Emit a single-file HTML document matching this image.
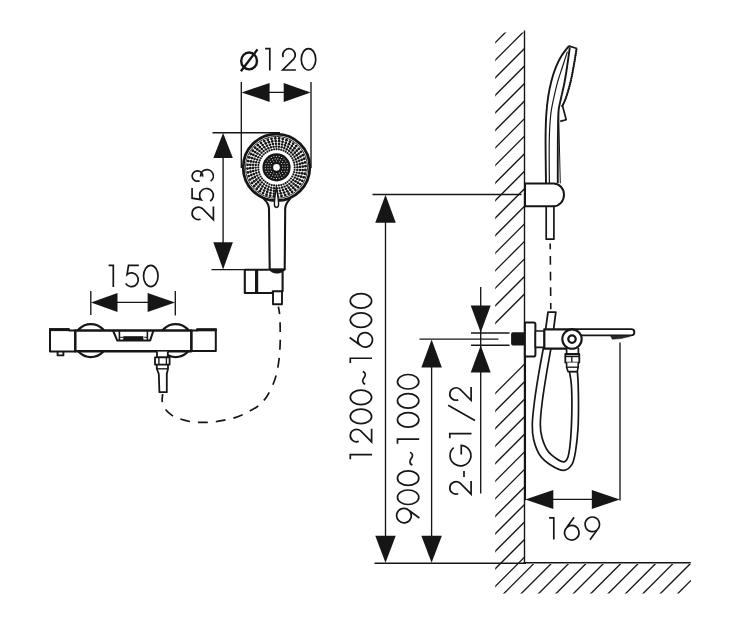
<!DOCTYPE html>
<html><head><meta charset="utf-8"><title>Dimension drawing</title>
<style>
html,body{margin:0;padding:0;background:#fff;}
body{width:738px;height:632px;overflow:hidden;font-family:"Liberation Sans",sans-serif;}
svg{display:block}
</style></head><body>
<svg width="738" height="632" viewBox="0 0 738 632">
<rect width="738" height="632" fill="#fff"/>
<clipPath id="hc"><path d="M495.2,32.5 H524.5 V564.0 H690.8 V593.6 H495.2 Z"/></clipPath>
<g clip-path="url(#hc)" stroke="#161616" stroke-width="1.35">
<line x1="480" y1="40.32" x2="720" y2="-199.68"/>
<line x1="480" y1="57.86" x2="720" y2="-182.14"/>
<line x1="480" y1="75.40" x2="720" y2="-164.60"/>
<line x1="480" y1="92.94" x2="720" y2="-147.06"/>
<line x1="480" y1="110.48" x2="720" y2="-129.52"/>
<line x1="480" y1="128.02" x2="720" y2="-111.98"/>
<line x1="480" y1="145.56" x2="720" y2="-94.44"/>
<line x1="480" y1="163.10" x2="720" y2="-76.90"/>
<line x1="480" y1="180.64" x2="720" y2="-59.36"/>
<line x1="480" y1="198.18" x2="720" y2="-41.82"/>
<line x1="480" y1="215.72" x2="720" y2="-24.28"/>
<line x1="480" y1="233.26" x2="720" y2="-6.74"/>
<line x1="480" y1="250.80" x2="720" y2="10.80"/>
<line x1="480" y1="268.34" x2="720" y2="28.34"/>
<line x1="480" y1="285.88" x2="720" y2="45.88"/>
<line x1="480" y1="303.42" x2="720" y2="63.42"/>
<line x1="480" y1="320.96" x2="720" y2="80.96"/>
<line x1="480" y1="338.50" x2="720" y2="98.50"/>
<line x1="480" y1="408.66" x2="720" y2="168.66"/>
<line x1="480" y1="426.20" x2="720" y2="186.20"/>
<line x1="480" y1="443.74" x2="720" y2="203.74"/>
<line x1="480" y1="461.28" x2="720" y2="221.28"/>
<line x1="480" y1="478.82" x2="720" y2="238.82"/>
<line x1="480" y1="496.36" x2="720" y2="256.36"/>
<line x1="480" y1="513.90" x2="720" y2="273.90"/>
<line x1="480" y1="531.44" x2="720" y2="291.44"/>
<line x1="480" y1="548.98" x2="720" y2="308.98"/>
<line x1="480" y1="566.52" x2="720" y2="326.52"/>
<line x1="480" y1="584.06" x2="720" y2="344.06"/>
<line x1="480" y1="601.60" x2="720" y2="361.60"/>
<line x1="480" y1="617.40" x2="720" y2="377.40"/>
<line x1="480" y1="634.80" x2="720" y2="394.80"/>
<line x1="480" y1="652.20" x2="720" y2="412.20"/>
<line x1="480" y1="669.60" x2="720" y2="429.60"/>
<line x1="480" y1="687.00" x2="720" y2="447.00"/>
<line x1="480" y1="704.40" x2="720" y2="464.40"/>
<line x1="480" y1="721.80" x2="720" y2="481.80"/>
<line x1="480" y1="739.20" x2="720" y2="499.20"/>
<line x1="480" y1="756.60" x2="720" y2="516.60"/>
<line x1="480" y1="774.00" x2="720" y2="534.00"/>
<line x1="480" y1="791.40" x2="720" y2="551.40"/>
<line x1="480" y1="808.80" x2="720" y2="568.80"/>
<line x1="480" y1="826.20" x2="720" y2="586.20"/>
<line x1="480" y1="843.60" x2="720" y2="603.60"/>
</g>
<line x1="524.5" y1="30.5" x2="524.5" y2="563.5" stroke="#161616" stroke-width="1.4" />
<line x1="523.5" y1="562.8" x2="690.8" y2="562.8" stroke="#161616" stroke-width="1.5" />
<line x1="241.3" y1="82" x2="241.3" y2="168" stroke="#161616" stroke-width="1.35" />
<line x1="311.0" y1="82" x2="311.0" y2="168" stroke="#161616" stroke-width="1.35" />
<line x1="250" y1="92.4" x2="302" y2="92.4" stroke="#161616" stroke-width="1.35" />
<polygon points="241.60,92.40 269.60,82.90 269.60,101.90" fill="#161616" stroke="none" stroke-width="0"/>
<polygon points="310.70,92.40 283.70,101.90 283.70,82.90" fill="#161616" stroke="none" stroke-width="0"/>
<g transform="translate(0,70.0) rotate(0)" fill="none" stroke="#161616" stroke-linecap="butt" stroke-linejoin="miter"><path transform="translate(249.10,0) scale(1,1.015)" d="M0,-17.2 A7.9,8.3 0 1 1 0,-0.6 A7.9,8.3 0 1 1 0,-17.2 Z M-8.2,1.3 L8.4,-20.3" stroke-width="2.4" vector-effect="non-scaling-stroke"/><path transform="translate(269.80,0) scale(1,1.015)" d="M-4.7,-21 H0 V0.4" stroke-width="1.7" vector-effect="non-scaling-stroke"/><path transform="translate(289.00,0) scale(1,1.015)" d="M-5.83,-12.68 A6.2,6.2 0 1 1 4.89,-10.98 L-6.3,0 H6.9" stroke-width="1.7" vector-effect="non-scaling-stroke"/><path transform="translate(308.50,0) scale(1,1.015)" d="M0,-21 A7.25,10.5 0 1 1 0,0 A7.25,10.5 0 1 1 0,-21 Z" stroke-width="1.7" vector-effect="non-scaling-stroke"/></g>
<line x1="212.5" y1="132.7" x2="280" y2="132.7" stroke="#161616" stroke-width="1.35" />
<line x1="211.5" y1="269.6" x2="246" y2="269.6" stroke="#161616" stroke-width="1.35" />
<line x1="223.1" y1="140" x2="223.1" y2="262" stroke="#161616" stroke-width="1.35" />
<polygon points="223.10,132.90 232.85,157.90 213.35,157.90" fill="#161616" stroke="none" stroke-width="0"/>
<polygon points="223.10,269.40 213.30,242.20 232.90,242.20" fill="#161616" stroke="none" stroke-width="0"/>
<line x1="90.8" y1="291" x2="90.8" y2="315" stroke="#161616" stroke-width="1.35" />
<line x1="175.3" y1="291" x2="175.3" y2="315.6" stroke="#161616" stroke-width="1.35" />
<line x1="100" y1="302.4" x2="166" y2="302.4" stroke="#161616" stroke-width="1.35" />
<polygon points="91.00,302.40 117.50,292.90 117.50,311.90" fill="#161616" stroke="none" stroke-width="0"/>
<polygon points="175.10,302.40 147.60,311.90 147.60,292.90" fill="#161616" stroke="none" stroke-width="0"/>
<g transform="translate(0,286.7) rotate(0)" fill="none" stroke="#161616" stroke-linecap="butt" stroke-linejoin="miter"><path transform="translate(113.30,0) scale(1,1.015)" d="M-4.7,-21 H0 V0.4" stroke-width="1.7" vector-effect="non-scaling-stroke"/><path transform="translate(132.05,0) scale(1,1.015)" d="M6.8,-21 H-3.5 L-5.0,-12.0 A6.8,6.8 0 1 1 -6.4,-3.25" stroke-width="1.7" vector-effect="non-scaling-stroke"/><path transform="translate(150.80,0) scale(1,1.015)" d="M0,-21 A7.25,10.5 0 1 1 0,0 A7.25,10.5 0 1 1 0,-21 Z" stroke-width="1.7" vector-effect="non-scaling-stroke"/></g>
<line x1="372.5" y1="194.5" x2="521.5" y2="194.5" stroke="#161616" stroke-width="1.35" />
<line x1="385.5" y1="200" x2="385.5" y2="556" stroke="#161616" stroke-width="1.35" />
<polygon points="385.50,194.70 395.75,222.70 375.25,222.70" fill="#161616" stroke="none" stroke-width="0"/>
<polygon points="385.50,562.80 375.25,535.80 395.75,535.80" fill="#161616" stroke="none" stroke-width="0"/>
<line x1="374.5" y1="563.2" x2="526" y2="563.2" stroke="#161616" stroke-width="1.35" />
<line x1="419.5" y1="339.1" x2="498.5" y2="339.1" stroke="#161616" stroke-width="1.35" />
<line x1="431.6" y1="345" x2="431.6" y2="556" stroke="#161616" stroke-width="1.35" />
<polygon points="431.60,339.40 441.85,367.40 421.35,367.40" fill="#161616" stroke="none" stroke-width="0"/>
<polygon points="431.60,562.80 421.35,535.80 441.85,535.80" fill="#161616" stroke="none" stroke-width="0"/>
<line x1="480.7" y1="287" x2="480.7" y2="493.5" stroke="#161616" stroke-width="1.35" />
<line x1="471" y1="333.0" x2="509.5" y2="333.0" stroke="#161616" stroke-width="1.35" />
<line x1="471" y1="345.2" x2="509.5" y2="345.2" stroke="#161616" stroke-width="1.35" />
<polygon points="480.70,332.60 470.70,305.60 490.70,305.60" fill="#161616" stroke="none" stroke-width="0"/>
<polygon points="480.70,345.60 490.70,372.60 470.70,372.60" fill="#161616" stroke="none" stroke-width="0"/>
<line x1="620.0" y1="342.5" x2="620.0" y2="500.5" stroke="#161616" stroke-width="1.35" />
<line x1="525.3" y1="357" x2="525.3" y2="500.3" stroke="#161616" stroke-width="1.5" />
<line x1="535" y1="499.4" x2="610" y2="499.4" stroke="#161616" stroke-width="1.35" />
<polygon points="525.30,499.40 553.30,489.90 553.30,508.90" fill="#161616" stroke="none" stroke-width="0"/>
<polygon points="619.80,499.40 591.80,508.90 591.80,489.90" fill="#161616" stroke="none" stroke-width="0"/>
<g transform="translate(0,539.2) rotate(0)" fill="none" stroke="#161616" stroke-linecap="butt" stroke-linejoin="miter"><path transform="translate(553.80,0) scale(1,1.015)" d="M-4.7,-21 H0 V0.4" stroke-width="1.7" vector-effect="non-scaling-stroke"/><path transform="translate(572.50,0) scale(1,1.015)" d="M1.6,-21.6 L-5.81,-11.45 A7.2,7.2 0 1 0 -5.80,-11.46" stroke-width="1.7" vector-effect="non-scaling-stroke"/><path transform="translate(591.60,0) scale(1,1.015)" d="M-1.6,0.6 L5.81,-9.55 A7.2,7.2 0 1 0 5.80,-9.54" stroke-width="1.7" vector-effect="non-scaling-stroke"/></g>
<g transform="translate(213.4,0) rotate(-90)" fill="none" stroke="#161616" stroke-linecap="butt" stroke-linejoin="miter"><path transform="translate(-213.40,0) scale(1,1.015)" d="M-5.83,-12.68 A6.2,6.2 0 1 1 4.89,-10.98 L-6.3,0 H6.9" stroke-width="1.7" vector-effect="non-scaling-stroke"/><path transform="translate(-194.70,0) scale(1,1.015)" d="M6.8,-21 H-3.5 L-5.0,-12.0 A6.8,6.8 0 1 1 -6.4,-3.25" stroke-width="1.7" vector-effect="non-scaling-stroke"/><path transform="translate(-176.00,0) scale(1,1.015)" d="M-4.71,-13.60 A5.2,5.2 0 1 1 -0.6,-10.60 M-0.6,-12.60 A6.3,6.3 0 1 1 -5.16,-2.69" stroke-width="1.7" vector-effect="non-scaling-stroke"/></g>
<g transform="translate(371.6,464.2) rotate(-90)" fill="none" stroke="#161616" stroke-linecap="butt" stroke-linejoin="miter"><path transform="translate(9.55,0) scale(1,1.015)" d="M-4.7,-21 H0 V0.4" stroke-width="1.7" vector-effect="non-scaling-stroke"/><path transform="translate(28.65,0) scale(1,1.015)" d="M-5.83,-12.68 A6.2,6.2 0 1 1 4.89,-10.98 L-6.3,0 H6.9" stroke-width="1.7" vector-effect="non-scaling-stroke"/><path transform="translate(47.75,0) scale(1,1.015)" d="M0,-21 A7.25,10.5 0 1 1 0,0 A7.25,10.5 0 1 1 0,-21 Z" stroke-width="1.7" vector-effect="non-scaling-stroke"/><path transform="translate(66.85,0) scale(1,1.015)" d="M0,-21 A7.25,10.5 0 1 1 0,0 A7.25,10.5 0 1 1 0,-21 Z" stroke-width="1.7" vector-effect="non-scaling-stroke"/><path transform="translate(86.40,0) scale(1,1.015)" d="M-6.4,-6.3 C-5.2,-9.3 -2.4,-9.5 0,-7.5 C2.4,-5.5 5.2,-5.7 6.4,-8.7" stroke-width="1.7" vector-effect="non-scaling-stroke"/><path transform="translate(105.95,0) scale(1,1.015)" d="M-4.7,-21 H0 V0.4" stroke-width="1.7" vector-effect="non-scaling-stroke"/><path transform="translate(125.05,0) scale(1,1.015)" d="M1.6,-21.6 L-5.81,-11.45 A7.2,7.2 0 1 0 -5.80,-11.46" stroke-width="1.7" vector-effect="non-scaling-stroke"/><path transform="translate(144.15,0) scale(1,1.015)" d="M0,-21 A7.25,10.5 0 1 1 0,0 A7.25,10.5 0 1 1 0,-21 Z" stroke-width="1.7" vector-effect="non-scaling-stroke"/><path transform="translate(163.25,0) scale(1,1.015)" d="M0,-21 A7.25,10.5 0 1 1 0,0 A7.25,10.5 0 1 1 0,-21 Z" stroke-width="1.7" vector-effect="non-scaling-stroke"/></g>
<g transform="translate(418.8,525.9) rotate(-90)" fill="none" stroke="#161616" stroke-linecap="butt" stroke-linejoin="miter"><path transform="translate(9.55,0) scale(1,1.015)" d="M-1.6,0.6 L5.81,-9.55 A7.2,7.2 0 1 0 5.80,-9.54" stroke-width="1.7" vector-effect="non-scaling-stroke"/><path transform="translate(28.65,0) scale(1,1.015)" d="M0,-21 A7.25,10.5 0 1 1 0,0 A7.25,10.5 0 1 1 0,-21 Z" stroke-width="1.7" vector-effect="non-scaling-stroke"/><path transform="translate(47.75,0) scale(1,1.015)" d="M0,-21 A7.25,10.5 0 1 1 0,0 A7.25,10.5 0 1 1 0,-21 Z" stroke-width="1.7" vector-effect="non-scaling-stroke"/><path transform="translate(67.30,0) scale(1,1.015)" d="M-6.4,-6.3 C-5.2,-9.3 -2.4,-9.5 0,-7.5 C2.4,-5.5 5.2,-5.7 6.4,-8.7" stroke-width="1.7" vector-effect="non-scaling-stroke"/><path transform="translate(86.85,0) scale(1,1.015)" d="M-4.7,-21 H0 V0.4" stroke-width="1.7" vector-effect="non-scaling-stroke"/><path transform="translate(105.95,0) scale(1,1.015)" d="M0,-21 A7.25,10.5 0 1 1 0,0 A7.25,10.5 0 1 1 0,-21 Z" stroke-width="1.7" vector-effect="non-scaling-stroke"/><path transform="translate(125.05,0) scale(1,1.015)" d="M0,-21 A7.25,10.5 0 1 1 0,0 A7.25,10.5 0 1 1 0,-21 Z" stroke-width="1.7" vector-effect="non-scaling-stroke"/><path transform="translate(144.15,0) scale(1,1.015)" d="M0,-21 A7.25,10.5 0 1 1 0,0 A7.25,10.5 0 1 1 0,-21 Z" stroke-width="1.7" vector-effect="non-scaling-stroke"/></g>
<g transform="translate(471.1,0) rotate(-90)" fill="none" stroke="#161616" stroke-linecap="butt" stroke-linejoin="miter"><path transform="translate(-487.90,0) scale(1,1.015)" d="M-5.83,-12.68 A6.2,6.2 0 1 1 4.89,-10.98 L-6.3,0 H6.9" stroke-width="1.7" vector-effect="non-scaling-stroke"/><path transform="translate(-474.00,0) scale(1,1.015)" d="M-3.0,-7.0 H3.0" stroke-width="1.7" vector-effect="non-scaling-stroke"/><path transform="translate(-455.60,0) scale(1,1.015)" d="M7.89,-17.12 A10.3,10.3 0 1 0 10.30,-9.7 H1.0" stroke-width="1.7" vector-effect="non-scaling-stroke"/><path transform="translate(-433.60,0) scale(1,1.015)" d="M-4.7,-21 H0 V0.4" stroke-width="1.7" vector-effect="non-scaling-stroke"/><path transform="translate(-412.80,0) scale(1,1.015)" d="M-7.6,3.8 L7.6,-22.6" stroke-width="1.7" vector-effect="non-scaling-stroke"/><path transform="translate(-394.00,0) scale(1,1.015)" d="M-5.83,-12.68 A6.2,6.2 0 1 1 4.89,-10.98 L-6.3,0 H6.9" stroke-width="1.7" vector-effect="non-scaling-stroke"/></g>
<path d="M263.6,198.8 C266.6,201.4 268.7,204.2 269.0,208.5 L269.7,269.6 H284.7 L285.2,208.5 C285.5,204.2 287.6,201.4 290.2,198.8" fill="#fff" stroke="#161616" stroke-width="2.1" stroke-linejoin="round" />
<circle cx="276.5" cy="167.4" r="33.3" fill="#fff" stroke="#161616" stroke-width="2.8"/>
<circle cx="276.5" cy="167.4" r="31.0" fill="none" stroke="#161616" stroke-width="0.9"/>
<g fill="#161616"><circle cx="294.70" cy="167.40" r="1.08"/><circle cx="297.40" cy="167.18" r="1.2"/><circle cx="300.09" cy="166.91" r="1.3"/><circle cx="302.79" cy="166.57" r="1.38"/><circle cx="305.47" cy="166.19" r="1.42"/><circle cx="294.54" cy="169.78" r="1.08"/><circle cx="297.25" cy="169.91" r="1.2"/><circle cx="299.96" cy="169.99" r="1.3"/><circle cx="302.67" cy="170.01" r="1.38"/><circle cx="305.39" cy="169.98" r="1.42"/><circle cx="294.08" cy="172.11" r="1.08"/><circle cx="296.74" cy="172.60" r="1.2"/><circle cx="299.42" cy="173.03" r="1.3"/><circle cx="302.11" cy="173.41" r="1.38"/><circle cx="304.80" cy="173.73" r="1.42"/><circle cx="293.31" cy="174.36" r="1.08"/><circle cx="295.89" cy="175.20" r="1.2"/><circle cx="298.49" cy="175.97" r="1.3"/><circle cx="301.10" cy="176.70" r="1.38"/><circle cx="303.73" cy="177.37" r="1.42"/><circle cx="292.26" cy="176.50" r="1.08"/><circle cx="294.71" cy="177.66" r="1.2"/><circle cx="297.18" cy="178.77" r="1.3"/><circle cx="299.68" cy="179.83" r="1.38"/><circle cx="302.20" cy="180.84" r="1.42"/><circle cx="290.94" cy="178.48" r="1.08"/><circle cx="293.21" cy="179.95" r="1.2"/><circle cx="295.52" cy="181.37" r="1.3"/><circle cx="297.86" cy="182.75" r="1.38"/><circle cx="300.23" cy="184.08" r="1.42"/><circle cx="289.37" cy="180.27" r="1.08"/><circle cx="291.43" cy="182.02" r="1.2"/><circle cx="293.53" cy="183.73" r="1.3"/><circle cx="295.67" cy="185.40" r="1.38"/><circle cx="297.85" cy="187.03" r="1.42"/><circle cx="287.58" cy="181.84" r="1.08"/><circle cx="289.40" cy="183.85" r="1.2"/><circle cx="291.26" cy="185.82" r="1.3"/><circle cx="293.16" cy="187.75" r="1.38"/><circle cx="295.10" cy="189.65" r="1.42"/><circle cx="285.60" cy="183.16" r="1.08"/><circle cx="287.14" cy="185.39" r="1.2"/><circle cx="288.73" cy="187.59" r="1.3"/><circle cx="290.36" cy="189.75" r="1.38"/><circle cx="292.04" cy="191.89" r="1.42"/><circle cx="283.46" cy="184.21" r="1.08"/><circle cx="284.70" cy="186.62" r="1.2"/><circle cx="285.99" cy="189.01" r="1.3"/><circle cx="287.32" cy="191.37" r="1.38"/><circle cx="288.71" cy="193.70" r="1.42"/><circle cx="281.21" cy="184.98" r="1.08"/><circle cx="282.12" cy="187.53" r="1.2"/><circle cx="283.08" cy="190.06" r="1.3"/><circle cx="284.10" cy="192.58" r="1.38"/><circle cx="285.17" cy="195.07" r="1.42"/><circle cx="278.88" cy="185.44" r="1.08"/><circle cx="279.44" cy="188.09" r="1.2"/><circle cx="280.07" cy="190.73" r="1.3"/><circle cx="280.75" cy="193.35" r="1.38"/><circle cx="281.49" cy="195.97" r="1.42"/><circle cx="276.50" cy="185.60" r="1.08"/><circle cx="276.72" cy="188.30" r="1.2"/><circle cx="276.99" cy="190.99" r="1.3"/><circle cx="277.33" cy="193.69" r="1.38"/><circle cx="277.71" cy="196.37" r="1.42"/><circle cx="274.12" cy="185.44" r="1.08"/><circle cx="273.99" cy="188.15" r="1.2"/><circle cx="273.91" cy="190.86" r="1.3"/><circle cx="273.89" cy="193.57" r="1.38"/><circle cx="273.92" cy="196.29" r="1.42"/><circle cx="271.79" cy="184.98" r="1.08"/><circle cx="271.30" cy="187.64" r="1.2"/><circle cx="270.87" cy="190.32" r="1.3"/><circle cx="270.49" cy="193.01" r="1.38"/><circle cx="270.17" cy="195.70" r="1.42"/><circle cx="269.54" cy="184.21" r="1.08"/><circle cx="268.70" cy="186.79" r="1.2"/><circle cx="267.93" cy="189.39" r="1.3"/><circle cx="267.20" cy="192.00" r="1.38"/><circle cx="266.53" cy="194.63" r="1.42"/><circle cx="267.40" cy="183.16" r="1.08"/><circle cx="266.24" cy="185.61" r="1.2"/><circle cx="265.13" cy="188.08" r="1.3"/><circle cx="264.07" cy="190.58" r="1.38"/><circle cx="263.06" cy="193.10" r="1.42"/><circle cx="265.42" cy="181.84" r="1.08"/><circle cx="263.95" cy="184.11" r="1.2"/><circle cx="262.53" cy="186.42" r="1.3"/><circle cx="261.15" cy="188.76" r="1.38"/><circle cx="259.82" cy="191.13" r="1.42"/><circle cx="263.63" cy="180.27" r="1.08"/><circle cx="261.88" cy="182.33" r="1.2"/><circle cx="260.17" cy="184.43" r="1.3"/><circle cx="258.50" cy="186.57" r="1.38"/><circle cx="256.87" cy="188.75" r="1.42"/><circle cx="262.06" cy="178.48" r="1.08"/><circle cx="260.05" cy="180.30" r="1.2"/><circle cx="258.08" cy="182.16" r="1.3"/><circle cx="256.15" cy="184.06" r="1.38"/><circle cx="254.25" cy="186.00" r="1.42"/><circle cx="260.74" cy="176.50" r="1.08"/><circle cx="258.51" cy="178.04" r="1.2"/><circle cx="256.31" cy="179.63" r="1.3"/><circle cx="254.15" cy="181.26" r="1.38"/><circle cx="252.01" cy="182.94" r="1.42"/><circle cx="259.69" cy="174.36" r="1.08"/><circle cx="257.28" cy="175.60" r="1.2"/><circle cx="254.89" cy="176.89" r="1.3"/><circle cx="252.53" cy="178.22" r="1.38"/><circle cx="250.20" cy="179.61" r="1.42"/><circle cx="258.92" cy="172.11" r="1.08"/><circle cx="256.37" cy="173.02" r="1.2"/><circle cx="253.84" cy="173.98" r="1.3"/><circle cx="251.32" cy="175.00" r="1.38"/><circle cx="248.83" cy="176.07" r="1.42"/><circle cx="258.46" cy="169.78" r="1.08"/><circle cx="255.81" cy="170.34" r="1.2"/><circle cx="253.17" cy="170.97" r="1.3"/><circle cx="250.55" cy="171.65" r="1.38"/><circle cx="247.93" cy="172.39" r="1.42"/><circle cx="258.30" cy="167.40" r="1.08"/><circle cx="255.60" cy="167.62" r="1.2"/><circle cx="252.91" cy="167.89" r="1.3"/><circle cx="250.21" cy="168.23" r="1.38"/><circle cx="247.53" cy="168.61" r="1.42"/><circle cx="258.46" cy="165.02" r="1.08"/><circle cx="255.75" cy="164.89" r="1.2"/><circle cx="253.04" cy="164.81" r="1.3"/><circle cx="250.33" cy="164.79" r="1.38"/><circle cx="247.61" cy="164.82" r="1.42"/><circle cx="258.92" cy="162.69" r="1.08"/><circle cx="256.26" cy="162.20" r="1.2"/><circle cx="253.58" cy="161.77" r="1.3"/><circle cx="250.89" cy="161.39" r="1.38"/><circle cx="248.20" cy="161.07" r="1.42"/><circle cx="259.69" cy="160.44" r="1.08"/><circle cx="257.11" cy="159.60" r="1.2"/><circle cx="254.51" cy="158.83" r="1.3"/><circle cx="251.90" cy="158.10" r="1.38"/><circle cx="249.27" cy="157.43" r="1.42"/><circle cx="260.74" cy="158.30" r="1.08"/><circle cx="258.29" cy="157.14" r="1.2"/><circle cx="255.82" cy="156.03" r="1.3"/><circle cx="253.32" cy="154.97" r="1.38"/><circle cx="250.80" cy="153.96" r="1.42"/><circle cx="262.06" cy="156.32" r="1.08"/><circle cx="259.79" cy="154.85" r="1.2"/><circle cx="257.48" cy="153.43" r="1.3"/><circle cx="255.14" cy="152.05" r="1.38"/><circle cx="252.77" cy="150.72" r="1.42"/><circle cx="263.63" cy="154.53" r="1.08"/><circle cx="261.57" cy="152.78" r="1.2"/><circle cx="259.47" cy="151.07" r="1.3"/><circle cx="257.33" cy="149.40" r="1.38"/><circle cx="255.15" cy="147.77" r="1.42"/><circle cx="265.42" cy="152.96" r="1.08"/><circle cx="263.60" cy="150.95" r="1.2"/><circle cx="261.74" cy="148.98" r="1.3"/><circle cx="259.84" cy="147.05" r="1.38"/><circle cx="257.90" cy="145.15" r="1.42"/><circle cx="267.40" cy="151.64" r="1.08"/><circle cx="265.86" cy="149.41" r="1.2"/><circle cx="264.27" cy="147.21" r="1.3"/><circle cx="262.64" cy="145.05" r="1.38"/><circle cx="260.96" cy="142.91" r="1.42"/><circle cx="269.54" cy="150.59" r="1.08"/><circle cx="268.30" cy="148.18" r="1.2"/><circle cx="267.01" cy="145.79" r="1.3"/><circle cx="265.68" cy="143.43" r="1.38"/><circle cx="264.29" cy="141.10" r="1.42"/><circle cx="271.79" cy="149.82" r="1.08"/><circle cx="270.88" cy="147.27" r="1.2"/><circle cx="269.92" cy="144.74" r="1.3"/><circle cx="268.90" cy="142.22" r="1.38"/><circle cx="267.83" cy="139.73" r="1.42"/><circle cx="274.12" cy="149.36" r="1.08"/><circle cx="273.56" cy="146.71" r="1.2"/><circle cx="272.93" cy="144.07" r="1.3"/><circle cx="272.25" cy="141.45" r="1.38"/><circle cx="271.51" cy="138.83" r="1.42"/><circle cx="276.50" cy="149.20" r="1.08"/><circle cx="276.28" cy="146.50" r="1.2"/><circle cx="276.01" cy="143.81" r="1.3"/><circle cx="275.67" cy="141.11" r="1.38"/><circle cx="275.29" cy="138.43" r="1.42"/><circle cx="278.88" cy="149.36" r="1.08"/><circle cx="279.01" cy="146.65" r="1.2"/><circle cx="279.09" cy="143.94" r="1.3"/><circle cx="279.11" cy="141.23" r="1.38"/><circle cx="279.08" cy="138.51" r="1.42"/><circle cx="281.21" cy="149.82" r="1.08"/><circle cx="281.70" cy="147.16" r="1.2"/><circle cx="282.13" cy="144.48" r="1.3"/><circle cx="282.51" cy="141.79" r="1.38"/><circle cx="282.83" cy="139.10" r="1.42"/><circle cx="283.46" cy="150.59" r="1.08"/><circle cx="284.30" cy="148.01" r="1.2"/><circle cx="285.07" cy="145.41" r="1.3"/><circle cx="285.80" cy="142.80" r="1.38"/><circle cx="286.47" cy="140.17" r="1.42"/><circle cx="285.60" cy="151.64" r="1.08"/><circle cx="286.76" cy="149.19" r="1.2"/><circle cx="287.87" cy="146.72" r="1.3"/><circle cx="288.93" cy="144.22" r="1.38"/><circle cx="289.94" cy="141.70" r="1.42"/><circle cx="287.58" cy="152.96" r="1.08"/><circle cx="289.05" cy="150.69" r="1.2"/><circle cx="290.47" cy="148.38" r="1.3"/><circle cx="291.85" cy="146.04" r="1.38"/><circle cx="293.18" cy="143.67" r="1.42"/><circle cx="289.37" cy="154.53" r="1.08"/><circle cx="291.12" cy="152.47" r="1.2"/><circle cx="292.83" cy="150.37" r="1.3"/><circle cx="294.50" cy="148.23" r="1.38"/><circle cx="296.13" cy="146.05" r="1.42"/><circle cx="290.94" cy="156.32" r="1.08"/><circle cx="292.95" cy="154.50" r="1.2"/><circle cx="294.92" cy="152.64" r="1.3"/><circle cx="296.85" cy="150.74" r="1.38"/><circle cx="298.75" cy="148.80" r="1.42"/><circle cx="292.26" cy="158.30" r="1.08"/><circle cx="294.49" cy="156.76" r="1.2"/><circle cx="296.69" cy="155.17" r="1.3"/><circle cx="298.85" cy="153.54" r="1.38"/><circle cx="300.99" cy="151.86" r="1.42"/><circle cx="293.31" cy="160.44" r="1.08"/><circle cx="295.72" cy="159.20" r="1.2"/><circle cx="298.11" cy="157.91" r="1.3"/><circle cx="300.47" cy="156.58" r="1.38"/><circle cx="302.80" cy="155.19" r="1.42"/><circle cx="294.08" cy="162.69" r="1.08"/><circle cx="296.63" cy="161.78" r="1.2"/><circle cx="299.16" cy="160.82" r="1.3"/><circle cx="301.68" cy="159.80" r="1.38"/><circle cx="304.17" cy="158.73" r="1.42"/><circle cx="294.54" cy="165.02" r="1.08"/><circle cx="297.19" cy="164.46" r="1.2"/><circle cx="299.83" cy="163.83" r="1.3"/><circle cx="302.45" cy="163.15" r="1.38"/><circle cx="305.07" cy="162.41" r="1.42"/></g>
<circle cx="276.5" cy="167.4" r="14.1" fill="#161616"/>
<g fill="#fff"><circle cx="287.62" cy="168.75" r="0.55"/><circle cx="286.97" cy="171.37" r="0.55"/><circle cx="285.72" cy="173.76" r="0.55"/><circle cx="283.93" cy="175.78" r="0.55"/><circle cx="281.70" cy="177.32" r="0.55"/><circle cx="279.18" cy="178.27" r="0.55"/><circle cx="276.50" cy="178.60" r="0.55"/><circle cx="273.82" cy="178.27" r="0.55"/><circle cx="271.30" cy="177.32" r="0.55"/><circle cx="269.07" cy="175.78" r="0.55"/><circle cx="267.28" cy="173.76" r="0.55"/><circle cx="266.03" cy="171.37" r="0.55"/><circle cx="265.38" cy="168.75" r="0.55"/><circle cx="265.38" cy="166.05" r="0.55"/><circle cx="266.03" cy="163.43" r="0.55"/><circle cx="267.28" cy="161.04" r="0.55"/><circle cx="269.07" cy="159.02" r="0.55"/><circle cx="271.30" cy="157.48" r="0.55"/><circle cx="273.82" cy="156.53" r="0.55"/><circle cx="276.50" cy="156.20" r="0.55"/><circle cx="279.18" cy="156.53" r="0.55"/><circle cx="281.70" cy="157.48" r="0.55"/><circle cx="283.93" cy="159.02" r="0.55"/><circle cx="285.72" cy="161.04" r="0.55"/><circle cx="286.97" cy="163.43" r="0.55"/><circle cx="287.62" cy="166.05" r="0.55"/><circle cx="284.99" cy="168.75" r="0.55"/><circle cx="284.16" cy="171.30" r="0.55"/><circle cx="282.58" cy="173.48" r="0.55"/><circle cx="280.40" cy="175.06" r="0.55"/><circle cx="277.85" cy="175.89" r="0.55"/><circle cx="275.15" cy="175.89" r="0.55"/><circle cx="272.60" cy="175.06" r="0.55"/><circle cx="270.42" cy="173.48" r="0.55"/><circle cx="268.84" cy="171.30" r="0.55"/><circle cx="268.01" cy="168.75" r="0.55"/><circle cx="268.01" cy="166.05" r="0.55"/><circle cx="268.84" cy="163.50" r="0.55"/><circle cx="270.42" cy="161.32" r="0.55"/><circle cx="272.60" cy="159.74" r="0.55"/><circle cx="275.15" cy="158.91" r="0.55"/><circle cx="277.85" cy="158.91" r="0.55"/><circle cx="280.40" cy="159.74" r="0.55"/><circle cx="282.58" cy="161.32" r="0.55"/><circle cx="284.16" cy="163.50" r="0.55"/><circle cx="284.99" cy="166.05" r="0.55"/><circle cx="282.64" cy="168.80" r="0.5"/><circle cx="281.43" cy="171.33" r="0.5"/><circle cx="279.23" cy="173.08" r="0.5"/><circle cx="276.50" cy="173.70" r="0.5"/><circle cx="273.77" cy="173.08" r="0.5"/><circle cx="271.57" cy="171.33" r="0.5"/><circle cx="270.36" cy="168.80" r="0.5"/><circle cx="270.36" cy="166.00" r="0.5"/><circle cx="271.57" cy="163.47" r="0.5"/><circle cx="273.77" cy="161.72" r="0.5"/><circle cx="276.50" cy="161.10" r="0.5"/><circle cx="279.23" cy="161.72" r="0.5"/><circle cx="281.43" cy="163.47" r="0.5"/><circle cx="282.64" cy="166.00" r="0.5"/></g>
<circle cx="276.5" cy="167.4" r="3.3" fill="#fff"/>
<path d="M276.4,186.6 C275.6,192 274.4,200 274.4,204.6 C274.4,208.4 278.6,208.4 278.6,204.6 C278.6,200 277.2,192 276.4,186.6 Z" fill="#fff" stroke="#161616" stroke-width="1.4" stroke-linejoin="round" />
<path d="M268.6,269.0 H285.2 C282,274.6 272,274.6 268.6,269.0 Z" fill="#161616" stroke="#161616" stroke-width="0.6" stroke-linejoin="round" />
<path d="M268.8,269.7 H244.8 V293 H272.8 V291.2 H282.6 V269.7" fill="none" stroke="#161616" stroke-width="2.1" stroke-linejoin="round" />
<line x1="256.6" y1="269.7" x2="256.6" y2="293" stroke="#161616" stroke-width="3.2" />
<path d="M273.0,291.2 V304.3 H282.0 V291.2" fill="none" stroke="#161616" stroke-width="1.9" stroke-linejoin="round" />
<circle cx="90.9" cy="340.6" r="16.5" fill="#fff" stroke="#161616" stroke-width="2.4"/>
<circle cx="175.6" cy="340.6" r="16.5" fill="#fff" stroke="#161616" stroke-width="2.4"/>
<path d="M50.0,329.6 H69.2 V330.4 H75.2 V351.4 H50.0 Z" fill="#fff" stroke="#161616" stroke-width="2.0" stroke-linejoin="round" />
<path d="M215.8,329.6 H197.0 V330.6 H191.3 V351.0 H215.8 Z" fill="#fff" stroke="#161616" stroke-width="2.0" stroke-linejoin="round" />
<line x1="49.0" y1="329.6" x2="69.4" y2="329.6" stroke="#161616" stroke-width="3.0" />
<line x1="196.6" y1="329.8" x2="216.8" y2="329.8" stroke="#161616" stroke-width="3.0" />
<path d="M75.3,330.5 H191.3 V351.2 H75.3 Z" fill="#fff" stroke="#161616" stroke-width="2.5" stroke-linejoin="round" />
<path d="M113.0,330.5 L117.2,340.4 H150.2 L153.4,330.5" fill="none" stroke="#161616" stroke-width="2.0" stroke-linejoin="round" />
<rect x="123.2" y="336.2" width="20.2" height="4.3" fill="#161616"/>
<line x1="119.4" y1="331" x2="119.4" y2="340.3" stroke="#161616" stroke-width="1.6" />
<line x1="147.4" y1="331" x2="147.4" y2="340.3" stroke="#161616" stroke-width="1.6" />
<line x1="119.3" y1="337.3" x2="123" y2="337.3" stroke="#161616" stroke-width="1.0" />
<line x1="144.2" y1="337.3" x2="147.6" y2="337.3" stroke="#161616" stroke-width="1.0" />
<path d="M57.6,351.4 V355.4 H63.4 V351.4" fill="none" stroke="#161616" stroke-width="1.9" stroke-linejoin="round" />
<path d="M157.0,351.6 V357.3 H167.8 V351.6" fill="#fff" stroke="#161616" stroke-width="1.8" stroke-linejoin="round" />
<path d="M155.0,357.3 H169.6 V364.6 H155.0 Z" fill="#fff" stroke="#161616" stroke-width="1.8" stroke-linejoin="round" />
<line x1="158.9" y1="357.3" x2="158.9" y2="364.6" stroke="#161616" stroke-width="1.35" />
<line x1="166.4" y1="357.3" x2="166.4" y2="364.6" stroke="#161616" stroke-width="1.35" />
<path d="M156.8,364.6 V368.8 L158.8,374 L159.4,392.2 H166.8 V374 L168.0,368.8 V364.6" fill="none" stroke="#161616" stroke-width="1.8" stroke-linejoin="round" />
<line x1="156.8" y1="368.8" x2="168.0" y2="368.8" stroke="#161616" stroke-width="1.35" />
<path d="M278.40,306.60 C278.63,308.17 279.50,312.10 279.80,316.00 C280.10,319.90 280.15,325.17 280.20,330.00 C280.25,334.83 280.37,339.57 280.10,345.00 C279.83,350.43 279.48,356.82 278.60,362.60 C277.72,368.38 276.73,374.10 274.80,379.70 C272.87,385.30 269.78,391.82 267.00,396.20 C264.22,400.58 261.02,403.50 258.10,406.00 C255.18,408.50 252.02,409.78 249.50,411.20 C246.98,412.62 245.70,413.33 243.00,414.50 C240.30,415.67 236.20,417.32 233.30,418.20 C230.40,419.08 228.58,419.20 225.60,419.80 C222.62,420.40 218.38,421.38 215.40,421.80 C212.42,422.22 210.68,422.22 207.70,422.30 C204.72,422.38 200.48,422.43 197.50,422.30 C194.52,422.17 192.83,422.10 189.80,421.50 C186.77,420.90 182.27,419.72 179.30,418.70 C176.33,417.68 174.38,417.03 172.00,415.40 C169.62,413.77 166.63,411.28 165.00,408.90 C163.37,406.52 162.58,403.58 162.20,401.10 C161.82,398.62 162.62,395.18 162.70,394.00" fill="none" stroke="#161616" stroke-width="1.7" stroke-linejoin="round" stroke-dasharray="9.8 8.1" stroke-dashoffset="2.2"/>
<path d="M568.80,46.10 C567.62,47.68 563.82,52.17 561.70,55.60 C559.58,59.03 557.82,62.48 556.10,66.70 C554.38,70.92 552.72,75.90 551.40,80.90 C550.08,85.90 549.05,91.15 548.20,96.70 C547.35,102.25 546.73,107.82 546.30,114.20 C545.87,120.58 545.70,127.37 545.60,135.00 C545.50,142.63 545.63,151.95 545.70,160.00 C545.77,168.05 545.95,179.42 546.00,183.30" fill="none" stroke="#161616" stroke-width="1.9" stroke-linejoin="round" />
<path d="M567.40,51.60 C566.58,54.12 564.12,61.68 562.50,66.70 C560.88,71.72 559.17,76.43 557.70,81.70 C556.23,86.97 554.85,92.88 553.70,98.30 C552.55,103.72 551.52,108.08 550.80,114.20 C550.08,120.32 549.67,127.37 549.40,135.00 C549.13,142.63 549.20,151.95 549.20,160.00 C549.20,168.05 549.37,179.42 549.40,183.30" fill="none" stroke="#161616" stroke-width="1.2" stroke-linejoin="round" />
<path d="M569.80,47.40 C569.35,50.62 567.98,60.85 567.10,66.70 C566.22,72.55 565.52,77.23 564.50,82.50 C563.48,87.77 561.97,93.82 561.00,98.30 C560.03,102.78 559.18,105.45 558.70,109.40 C558.22,113.35 558.25,115.23 558.10,122.00 C557.95,128.77 557.85,139.78 557.80,150.00 C557.75,160.22 557.80,177.75 557.80,183.30" fill="none" stroke="#161616" stroke-width="1.9" stroke-linejoin="round" />
<path d="M576.60,48.60 C576.10,51.62 574.63,61.05 573.60,66.70 C572.57,72.35 571.70,77.23 570.40,82.50 C569.10,87.77 567.22,94.28 565.80,98.30 C564.38,102.32 562.55,105.22 561.90,106.60" fill="none" stroke="#161616" stroke-width="2.0" stroke-linejoin="round" stroke-dasharray="1.6 0.5"/>
<path d="M576.60,48.60 C576.10,51.62 574.63,61.05 573.60,66.70 C572.57,72.35 571.70,77.23 570.40,82.50 C569.10,87.77 567.22,94.28 565.80,98.30 C564.38,102.32 562.55,105.22 561.90,106.60" fill="none" stroke="#161616" stroke-width="1.35" stroke-linejoin="round" />
<path d="M568.6,45.9 L576.9,48.5" fill="none" stroke="#161616" stroke-width="1.8" stroke-linejoin="round" />
<path d="M558.6,112 L560.3,183.3" fill="none" stroke="#161616" stroke-width="1.0" stroke-linejoin="round" />
<path d="M562.3,105.0 L566.2,119.8 L560.2,121.4" fill="none" stroke="#161616" stroke-width="1.7" stroke-linejoin="round" />
<path d="M525.0,183.4 H553.6 A10.4,11.4 0 0 1 553.6,206.2 H525.0 Z" fill="#fff" stroke="#161616" stroke-width="2.0" stroke-linejoin="round" />
<path d="M546.2,206.5 V239.2 H553.9 V206.5" fill="none" stroke="#161616" stroke-width="1.7" stroke-linejoin="round" />
<line x1="550.2" y1="243.6" x2="550.8" y2="309.2" stroke="#161616" stroke-width="1.6" stroke-dasharray="8.7 6.9" stroke-dashoffset="3.1"/>
<path d="M548.0,312.2 H555.8 L553.4,331 H545.4 Z" fill="#fff" stroke="#161616" stroke-width="1.8" stroke-linejoin="round" />
<path d="M543.60,347.00 C542.80,351.37 540.33,364.03 538.80,373.20 C537.27,382.37 535.48,393.50 534.40,402.00 C533.32,410.50 532.42,417.92 532.30,424.20 C532.18,430.48 532.43,434.53 533.70,439.70 C534.97,444.87 537.02,450.95 539.90,455.20 C542.78,459.45 546.98,462.68 551.00,465.20 C555.02,467.72 560.48,470.48 564.00,470.30 C567.52,470.12 570.17,467.35 572.10,464.10 C574.03,460.85 574.62,456.72 575.60,450.80 C576.58,444.88 577.52,435.98 578.00,428.60 C578.48,421.22 578.47,413.77 578.50,406.50 C578.53,399.23 578.38,390.83 578.20,385.00 C578.02,379.17 577.53,373.75 577.40,371.50 L569.40,371.50 C569.73,373.75 570.98,379.17 571.40,385.00 C571.82,390.83 571.92,399.23 571.90,406.50 C571.88,413.77 571.63,421.95 571.30,428.60 C570.97,435.25 570.48,441.58 569.90,446.40 C569.32,451.22 568.78,454.92 567.80,457.50 C566.82,460.08 565.87,461.68 564.00,461.90 C562.13,462.12 559.32,460.65 556.60,458.80 C553.88,456.95 550.13,454.35 547.70,450.80 C545.27,447.25 543.23,441.93 542.00,437.50 C540.77,433.07 540.27,430.12 540.30,424.20 C540.33,418.28 541.15,410.50 542.20,402.00 C543.25,393.50 545.10,382.37 546.60,373.20 C548.10,364.03 550.43,351.37 551.20,347.00 Z" fill="#fff" stroke="#161616" stroke-width="1.7" stroke-linejoin="round" />
<rect x="511.1" y="332.2" width="13.8" height="13.4" rx="1.8" fill="#161616"/>
<path d="M524.9,322.6 H533.6 Q535.4,322.6 535.4,324.4 V354.8 Q535.4,356.6 533.6,356.6 H524.9 Z" fill="#fff" stroke="#161616" stroke-width="2.0" stroke-linejoin="round" />
<path d="M544.3,329.4 H572 V348.7 H544.3 Z" fill="#fff" stroke="#161616" stroke-width="2.2" stroke-linejoin="round" />
<path d="M535.4,331.0 H544.0 V347.4 H535.4 Z" fill="#fff" stroke="#161616" stroke-width="1.7" stroke-linejoin="round" />
<path d="M572,329.1 H631.2 C635.4,329.1 635.4,335.4 631.2,335.4 H580 Z" fill="#fff" stroke="#161616" stroke-width="1.9" stroke-linejoin="round" />
<path d="M610.4,335.6 L612.2,339.2 L621,338.6 L629.6,336.6 L630.4,335.6 Z" fill="#2a2a2a" stroke="#161616" stroke-width="0.5" stroke-linejoin="round" />
<path d="M566.6,348 V354 H578.4 V348" fill="#fff" stroke="#161616" stroke-width="1.7" stroke-linejoin="round" />
<path d="M565.3,354 H579.3 V362.6 H565.3 Z" fill="#fff" stroke="#161616" stroke-width="1.8" stroke-linejoin="round" />
<line x1="565.3" y1="356.4" x2="579.3" y2="356.4" stroke="#161616" stroke-width="1.6" />
<line x1="571.8" y1="357" x2="571.8" y2="362.6" stroke="#161616" stroke-width="1.35" />
<path d="M566.6,362.6 V367.2 L568.0,371.6 H577.2 L578.2,367.2 V362.6" fill="#fff" stroke="#161616" stroke-width="1.6" stroke-linejoin="round" />
<line x1="566.6" y1="367.2" x2="578.2" y2="367.2" stroke="#161616" stroke-width="1.35" />
<circle cx="572.0" cy="339.1" r="9.7" fill="#fff" stroke="#161616" stroke-width="2.1"/>
<circle cx="572.0" cy="339.1" r="3.7" fill="#fff" stroke="#161616" stroke-width="2.3"/>
</svg>
</body></html>
